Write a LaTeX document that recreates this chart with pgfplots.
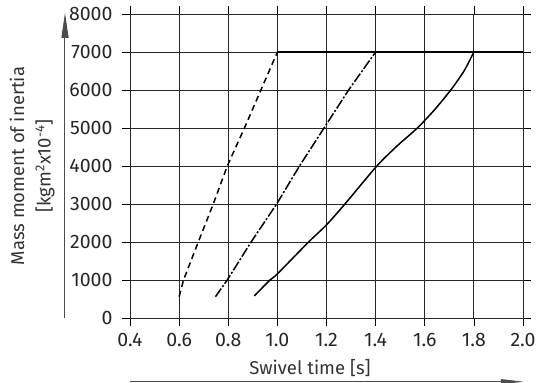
\documentclass[border=0pt]{standalone}
\usepackage{fontspec}
\setmainfont{Fira Sans}
\usepackage{pgfplots}
\pgfplotsset{compat=1.18}
\usetikzlibrary{arrows.meta}
\begin{document}
\begin{tikzpicture}
\useasboundingbox (0,0) rectangle (542pt,383pt);
\begin{axis}[
  at={(130pt,65pt)}, anchor=south west,
  scale only axis, width=393pt, height=304pt,
  xmin=0.4, xmax=2.0, ymin=0, ymax=8000,
  xtick={0.4,0.6,...,2.01}, ytick={0,1000,...,8000},
  xticklabels={0.4,0.6,0.8,1.0,1.2,1.4,1.6,1.8,2.0},
  scaled y ticks=false,
  /pgf/number format/assume math mode=true,
  yticklabel={\pgfmathprintnumber[fixed,1000 sep={}]{\tick}},
  tick label style={font=\fontsize{19.5}{21}\selectfont, text=black!85},
  yticklabel style={xshift=-6pt},
  xticklabel style={yshift=-4pt},
  tick align=outside, major tick length=8pt,
  tick style={black, line width=0.7pt},
  grid=major, major grid style={black!85, line width=0.8pt},
  axis line style={black!85, line width=0.8pt},
  clip=false,
]
\addplot[black, line width=1.5pt, dash pattern=on 6pt off 4pt] coordinates {
(0.600,560) (0.618,1000) (0.678,2000) (0.739,3000) (0.796,4000) (0.866,5000) (0.933,6000) (1.000,7000)};
\addplot[black, line width=1.5pt, dash pattern=on 10pt off 2pt on 2pt off 2pt] coordinates {
(0.748,560) (0.796,1000) (0.893,2000) (0.997,3000) (1.090,4000) (1.190,5000) (1.290,6000) (1.400,7000)};
\addplot[black, line width=1.5pt, smooth, tension=0.4] coordinates {
(0.906,580) (0.970,1000) (1.000,1160) (1.127,2000) (1.200,2450) (1.275,3000) (1.405,4000) (1.486,4520) (1.570,5000) (1.640,5480) (1.706,6000) (1.760,6500) (1.800,7000)};
\addplot[black, line width=1.8pt] coordinates {(1.0,7000) (2.0,7000)};
\draw[black!70, line width=1pt, -{Triangle[length=25pt,width=7pt]}]
  (rel axis cs:-0.1654,0) -- (rel axis cs:-0.1654,1.004);
\draw[black!70, line width=1pt, -{Triangle[length=23pt,width=5pt]}]
  (rel axis cs:0,-0.2095) -- (rel axis cs:1.002,-0.2095);
\node[rotate=90, font=\fontsize{18.5}{20}\selectfont, text=black!80] at (rel axis cs:-0.2875,0.5) {Mass moment of inertia};
\node[rotate=90, font=\fontsize{18.5}{20}\selectfont, text=black!80] at (rel axis cs:-0.2163,0.5) {[kgm\textsuperscript{2}x10\textsuperscript{-4}]};
\node[font=\fontsize{18.5}{20}\selectfont, text=black!80] at (rel axis cs:0.458,-0.1645) {Swivel time [s]};
\end{axis}
\end{tikzpicture}
\end{document}
